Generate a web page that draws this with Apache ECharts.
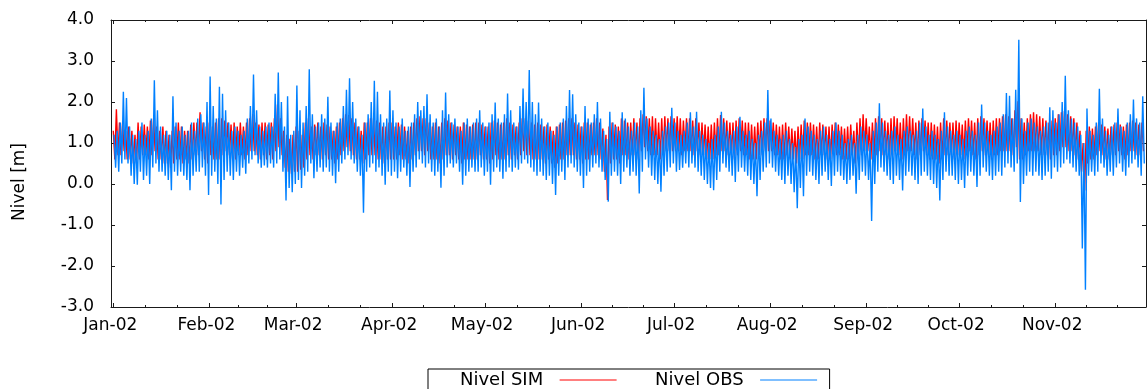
<!DOCTYPE html>
<html>
<head>
<meta charset="utf-8">
<title>Nivel SIM / Nivel OBS 2002</title>
<script src="https://cdn.jsdelivr.net/npm/echarts@6/dist/echarts.min.js"></script>
<style>
  html, body { margin: 0; padding: 0; background: #ffffff; }
  #chart { width: 1147px; height: 389px; }
</style>
</head>
<body>
<div id="chart"></div>
<script>
// Day-of-year (0 = 1 Jan 2002) where each month starts, and the tick labels.
const monthStarts = [0, 31, 59, 90, 120, 151, 181, 212, 243, 273, 304, 334];
const monthLabels = ['Jan-02', 'Feb-02', 'Mar-02', 'Apr-02', 'May-02', 'Jun-02',
                     'Jul-02', 'Aug-02', 'Sep-02', 'Oct-02', 'Nov-02'];

// Daily high / low water level [m], observed (OBS) and simulated (SIM).
// One line per month, January .. November.
const obsHigh = [
  1.2,1.3,1.5,2.25,2.1,1.4,1.2,1.1,1.3,1.5,1.2,1.3,1.6,2.53,1.8,1.4,1.2,1.3,1.2,2.14,1.5,1.3,1.4,1.2,1.3,1.5,1.3,1.6,1.7,1.5,2.0,
  2.62,1.9,1.6,2.37,2.2,1.8,1.5,1.3,1.4,1.3,1.2,1.3,1.6,1.9,2.67,1.8,1.4,1.3,1.4,1.5,1.4,2.2,2.72,2.0,1.4,2.14,1.2,1.3,
  2.4,1.8,1.5,1.9,2.8,1.7,1.4,1.5,1.7,1.6,2.13,1.5,1.3,1.5,1.6,1.9,2.3,2.58,2.0,1.6,1.4,1.2,1.5,1.7,2.0,2.52,2.25,1.7,1.5,1.6,2.28,
  1.8,1.5,1.4,1.6,1.3,1.4,1.5,1.7,2.0,1.8,1.9,2.19,1.7,1.5,1.6,1.4,1.8,2.23,1.7,1.5,1.6,1.4,1.3,1.5,1.6,1.4,1.5,1.6,1.8,1.5,
  1.4,1.5,1.7,1.99,1.6,1.5,1.7,2.21,1.8,1.5,1.4,1.9,2.33,2.0,2.78,2.0,1.7,1.99,1.6,1.4,1.5,1.3,1.2,1.4,1.5,1.6,1.9,2.29,2.19,1.7,1.5,
  1.4,1.9,1.6,1.5,1.7,2.0,1.6,1.3,1.1,1.76,1.5,1.4,1.3,1.75,1.6,1.4,1.3,1.5,1.4,1.8,2.35,1.6,1.4,1.3,1.2,1.1,1.3,1.4,1.5,1.86,
  1.5,1.3,1.2,1.3,1.5,1.75,1.4,1.76,1.3,1.2,1.1,1.0,1.1,1.2,1.4,1.76,1.5,1.3,1.2,1.3,1.4,1.64,1.3,1.2,1.3,1.1,1.0,1.2,1.3,1.5,2.29,
  1.6,1.3,1.2,1.1,1.2,1.3,1.1,1.0,0.9,1.1,1.2,1.6,1.4,1.3,1.2,1.1,1.3,1.4,1.2,1.1,1.3,1.5,1.3,1.2,1.0,1.1,1.2,1.0,1.2,1.4,1.3,
  1.2,1.0,1.3,1.5,1.97,1.5,1.3,1.2,1.3,1.4,1.2,1.1,1.3,1.4,1.3,1.2,1.3,1.5,1.84,1.4,1.2,1.3,1.2,1.1,1.3,1.75,1.4,1.3,1.2,1.3,
  1.2,1.1,1.3,1.4,1.3,1.2,1.5,1.94,1.5,1.3,1.2,1.3,1.4,1.5,1.7,2.22,2.15,1.6,2.3,3.52,1.6,1.3,1.5,1.6,1.5,1.4,1.3,1.4,1.5,1.87,1.8,
  1.5,1.7,2.0,2.64,1.8,1.6,1.5,1.4,1.2,1.0,1.84,1.3,1.2,1.5,2.32,1.6,1.3,1.2,1.4,1.5,1.84,1.4,1.3,1.5,1.7,2.06,1.6,1.5,2.14
];
const obsLow = [
  0.4,0.3,0.5,0.6,0.5,0.2,0.0,-0.02,0.3,0.1,0.2,0.0,0.4,0.5,0.3,0.3,0.2,0.1,-0.15,0.3,0.2,0.3,0.2,0.1,-0.15,0.2,0.3,0.3,0.4,0.2,-0.27,
  0.2,0.3,0.0,-0.5,0.1,0.3,0.2,0.1,0.3,0.2,0.4,0.25,0.5,0.6,0.7,0.5,0.4,0.45,0.4,0.5,0.4,0.5,0.6,0.3,-0.4,-0.1,-0.2,0.0,
  0.1,-0.1,0.2,0.3,0.5,0.14,0.3,0.4,0.3,0.4,0.3,0.2,0.02,0.3,0.5,0.6,0.7,0.6,0.5,0.3,0.2,-0.7,0.3,0.4,0.5,0.3,0.4,0.2,-0.02,0.3,0.2,
  0.3,0.14,0.3,0.4,0.2,-0.07,0.3,0.4,0.6,0.5,0.4,0.5,0.3,0.2,0.3,-0.09,0.2,0.4,0.5,0.4,0.5,0.3,-0.02,0.2,0.3,0.4,0.3,0.3,0.4,0.2,
  0.3,-0.02,0.3,0.4,0.3,0.13,0.3,0.4,0.3,0.4,0.35,0.5,0.6,0.5,0.4,0.3,0.2,0.3,0.2,0.1,0.2,0.0,-0.27,0.2,0.3,0.1,0.4,0.5,0.4,0.3,0.2,
  -0.1,0.2,0.3,0.4,0.5,0.4,0.3,0.1,-0.43,0.2,0.3,0.2,0.0,0.3,0.4,0.2,0.3,0.2,-0.23,0.3,0.6,0.4,0.2,0.1,0.0,-0.19,0.2,0.3,0.4,0.5,
  0.3,0.34,0.4,0.5,0.4,0.5,0.4,0.3,0.2,0.1,0.0,-0.1,-0.15,0.1,0.3,0.5,0.4,0.3,0.2,0.05,0.3,0.4,0.3,0.2,0.1,0.0,-0.3,0.1,0.3,0.4,0.5,
  0.4,0.3,0.2,0.1,0.0,0.2,0.0,-0.2,-0.59,-0.1,-0.3,0.2,0.3,0.2,0.1,0.0,0.2,0.3,0.1,-0.05,0.2,0.3,0.2,0.1,0.0,0.1,0.2,-0.24,0.1,0.3,0.2,
  0.1,-0.9,0.0,0.3,0.4,0.3,0.2,0.1,0.0,0.2,0.1,-0.16,0.2,0.3,0.2,0.1,0.0,0.2,0.3,0.2,0.1,0.0,-0.1,-0.4,0.1,0.3,0.2,0.2,0.1,0.0,
  0.1,-0.1,0.2,0.3,0.2,-0.07,0.2,0.4,0.3,0.2,0.1,0.2,0.3,0.2,0.4,0.5,0.4,0.3,0.5,-0.44,0.0,0.2,0.3,0.2,0.3,0.2,0.1,0.2,0.3,0.13,0.4,
  0.3,0.4,0.5,0.6,0.5,0.4,0.3,0.2,-1.57,-2.58,0.2,0.3,0.2,0.3,0.5,0.4,0.2,0.3,0.2,0.4,0.5,0.3,0.2,0.4,0.5,0.6,0.4,0.2,0.5
];
const simHigh = [
  1.3,1.82,1.5,1.5,1.3,1.4,1.3,1.2,1.5,1.4,1.45,1.4,1.55,1.6,1.4,1.3,1.4,1.3,1.2,1.3,1.4,1.5,1.4,1.3,1.3,1.45,1.5,1.5,1.75,1.5,1.4,
  1.5,1.4,1.5,1.6,1.6,1.55,1.5,1.45,1.5,1.4,1.5,1.4,1.5,1.6,1.7,1.5,1.45,1.5,1.5,1.45,1.5,1.6,1.94,1.6,1.3,1.2,1.1,1.2,
  1.4,1.3,1.2,1.5,1.6,1.4,1.45,1.5,1.4,1.5,1.45,1.4,1.3,1.4,1.5,1.6,1.7,1.68,1.6,1.5,1.4,1.3,1.5,1.5,1.6,1.6,1.55,1.5,1.4,1.4,1.5,
  1.5,1.4,1.5,1.45,1.4,1.3,1.4,1.5,1.6,1.65,1.6,1.6,1.5,1.4,1.5,1.4,1.5,1.6,1.55,1.5,1.45,1.4,1.4,1.5,1.45,1.4,1.45,1.5,1.5,1.45,
  1.4,1.4,1.5,1.55,1.5,1.45,1.5,1.6,1.5,1.45,1.4,1.5,1.6,1.6,1.55,1.5,1.45,1.5,1.45,1.4,1.45,1.4,1.3,1.4,1.45,1.5,1.55,1.6,1.6,1.5,1.45,
  1.4,1.5,1.5,1.45,1.5,1.6,1.5,1.35,1.2,1.4,1.5,1.45,1.4,1.6,1.55,1.5,1.5,1.6,1.5,1.6,1.7,1.65,1.6,1.65,1.6,1.5,1.6,1.65,1.6,1.65,
  1.6,1.65,1.6,1.55,1.6,1.6,1.55,1.6,1.5,1.5,1.45,1.4,1.45,1.5,1.6,1.68,1.6,1.55,1.5,1.5,1.55,1.6,1.55,1.5,1.5,1.45,1.4,1.5,1.55,1.6,1.6,
  1.55,1.5,1.45,1.4,1.45,1.5,1.4,1.35,1.3,1.4,1.45,1.55,1.5,1.5,1.45,1.4,1.5,1.45,1.4,1.4,1.45,1.5,1.45,1.4,1.35,1.4,1.45,1.3,1.5,1.6,1.7,
  1.6,1.4,1.5,1.6,1.65,1.6,1.55,1.5,1.6,1.65,1.6,1.5,1.6,1.7,1.65,1.6,1.5,1.55,1.6,1.55,1.5,1.5,1.45,1.4,1.5,1.6,1.55,1.5,1.5,1.55,
  1.5,1.45,1.55,1.6,1.55,1.5,1.6,1.65,1.6,1.55,1.5,1.55,1.6,1.6,1.65,1.7,1.65,1.6,1.8,2.02,1.6,1.5,1.6,1.7,1.75,1.7,1.65,1.6,1.55,1.5,1.55,
  1.6,1.7,1.75,1.78,1.7,1.65,1.6,1.5,1.3,1.0,1.3,1.4,1.35,1.4,1.5,1.45,1.4,1.35,1.4,1.45,1.5,1.45,1.4,1.45,1.5,1.55,1.5,1.45,1.5
];
const simLow = [
  0.6,0.7,0.7,0.8,0.6,0.6,0.5,0.5,0.6,0.7,0.7,0.6,0.7,0.8,0.6,0.6,0.5,0.5,0.4,0.5,0.6,0.6,0.5,0.6,0.5,0.6,0.7,0.7,0.8,0.6,0.5,
  0.7,0.6,0.6,0.6,0.7,0.8,0.7,0.6,0.6,0.7,0.7,0.6,0.7,0.8,0.8,0.7,0.6,0.7,0.6,0.7,0.6,0.8,0.9,0.7,0.4,0.3,0.25,0.3,
  0.3,0.35,0.4,0.6,0.7,0.6,0.7,0.7,0.6,0.7,0.6,0.6,0.5,0.6,0.7,0.8,0.9,0.8,0.7,0.6,0.6,0.5,0.6,0.7,0.7,0.7,0.6,0.6,0.5,0.6,0.6,
  0.6,0.6,0.7,0.6,0.6,0.5,0.6,0.7,0.8,0.8,0.7,0.8,0.6,0.6,0.6,0.5,0.6,0.7,0.7,0.6,0.7,0.6,0.5,0.6,0.6,0.6,0.6,0.6,0.7,0.6,
  0.6,0.5,0.6,0.7,0.6,0.6,0.6,0.7,0.6,0.7,0.6,0.7,0.8,0.7,0.7,0.6,0.6,0.6,0.6,0.5,0.6,0.5,0.4,0.5,0.6,0.6,0.7,0.7,0.7,0.6,0.6,
  0.5,0.6,0.6,0.7,0.7,0.7,0.6,0.3,-0.39,0.5,0.6,0.6,0.5,0.7,0.7,0.6,0.7,0.7,0.6,0.8,0.9,0.8,0.7,0.7,0.7,0.6,0.7,0.8,0.8,0.8,
  0.8,0.8,0.7,0.8,0.8,0.8,0.7,0.8,0.7,0.7,0.6,0.6,0.6,0.7,0.7,0.8,0.8,0.7,0.7,0.6,0.7,0.8,0.7,0.7,0.6,0.6,0.6,0.7,0.7,0.8,0.8,
  0.8,0.7,0.7,0.6,0.6,0.7,0.6,0.6,0.5,0.6,0.6,0.7,0.7,0.7,0.6,0.6,0.7,0.7,0.6,0.6,0.7,0.7,0.7,0.6,0.6,0.6,0.7,0.5,0.6,0.7,0.8,
  0.8,0.6,0.6,0.7,0.8,0.7,0.7,0.6,0.7,0.8,0.7,0.6,0.7,0.8,0.8,0.7,0.6,0.7,0.8,0.7,0.6,0.6,0.6,0.5,0.6,0.7,0.7,0.7,0.6,0.7,
  0.7,0.6,0.7,0.8,0.7,0.6,0.7,0.8,0.7,0.7,0.6,0.7,0.7,0.8,0.8,0.8,0.8,0.7,0.9,0.6,0.6,0.7,0.8,0.8,0.8,0.8,0.7,0.7,0.7,0.6,0.7,
  0.7,0.8,0.9,0.9,0.8,0.8,0.7,0.6,0.3,-0.16,0.5,0.6,0.6,0.7,0.8,0.7,0.6,0.6,0.7,0.7,0.8,0.7,0.6,0.7,0.8,0.8,0.7,0.7,0.8
];

const FONT = 'DejaVu Sans';
const INK = '#1a1a1a';
const X_MIN = -0.74;
const X_MAX = 333.3;
const LINE_W = 1.4;

// Month ticks carry labels; each month is also split in thirds by short ticks.
const majorTicks = monthStarts.slice(0, monthLabels.length);
const minorTicks = [];
for (let i = 0; i < monthLabels.length; i++) {
  const s = monthStarts[i], len = monthStarts[i + 1] - s;
  [s + len / 3, s + 2 * len / 3].forEach(v => { if (v <= X_MAX) minorTicks.push(v); });
}

// Each day contributes its high and its low, half a day apart.
function dailyPoints(high, low, phase) {
  const pts = [];
  for (let d = 0; d < high.length; d++) {
    pts.push([d + phase, high[d]]);
    pts.push([d + phase + 0.5, low[d]]);
  }
  return pts;
}

function tickAxis(position, ticks, len, withLine, withLabels) {
  return {
    type: 'value', position: position, min: X_MIN, max: X_MAX,
    axisLine: { show: withLine, onZero: false, lineStyle: { color: INK, width: 1 } },
    axisTick: { show: true, inside: true, length: len, customValues: ticks,
                lineStyle: { color: INK, width: 1 } },
    axisLabel: withLabels ? {
      show: true, customValues: ticks, margin: 10, padding: [0, 6, 0, 0],
      fontFamily: FONT, fontSize: 17, color: '#000',
      formatter: v => monthLabels[majorTicks.indexOf(v)] || ''
    } : { show: false },
    splitLine: { show: false }
  };
}

function levelAxis(position, withLabels) {
  return {
    type: 'value', position: position, min: -3, max: 4, interval: 1,
    axisLine: { show: true, onZero: false, lineStyle: { color: INK, width: 1 } },
    axisTick: { show: true, inside: true, length: 4, lineStyle: { color: INK, width: 1 } },
    axisLabel: withLabels ? {
      show: true, margin: 17, fontFamily: FONT, fontSize: 17, color: '#000',
      formatter: v => v.toFixed(1)
    } : { show: false },
    splitLine: { show: false }
  };
}

const chart = echarts.init(document.getElementById('chart'), null, { renderer: 'canvas' });
chart.setOption({
  animation: false,
  backgroundColor: '#ffffff',
  grid: { left: 111, right: 1, top: 20, bottom: 82, containLabel: false },
  xAxis: [
    tickAxis('bottom', majorTicks, 4, true, true),
    tickAxis('bottom', minorTicks, 2, false, false),
    tickAxis('top', majorTicks, 4, true, false),
    tickAxis('top', minorTicks, 2, false, false)
  ],
  yAxis: [levelAxis('left', true), levelAxis('right', false)],
  legend: {
    data: ['Nivel SIM', 'Nivel OBS'],
    left: 428, top: 369, orient: 'horizontal', align: 'right',
    itemWidth: 57, itemHeight: 14, itemGap: 38,
    padding: [2, 12, 8, 32],
    borderColor: '#000', borderWidth: 1,
    itemStyle: { opacity: 0 },
    lineStyle: { width: 1 },
    formatter: name => name + '  ',
    textStyle: { fontFamily: FONT, fontSize: 18, color: '#000' }
  },
  graphic: [{
    type: 'text', x: 20, y: 182, rotation: Math.PI / 2,
    style: { text: 'Nivel [m]', fontFamily: FONT, fontSize: 17, fill: '#000',
             align: 'center', verticalAlign: 'middle' }
  }],
  series: [
    {
      name: 'Nivel SIM', type: 'line', xAxisIndex: 0, yAxisIndex: 0,
      data: dailyPoints(simHigh, simLow, 0.0),
      symbol: 'none', showSymbol: false, clip: true, z: 2,
      itemStyle: { color: '#ff0000' },
      lineStyle: { color: '#ff0000', width: LINE_W }
    },
    {
      name: 'Nivel OBS', type: 'line', xAxisIndex: 0, yAxisIndex: 0,
      data: dailyPoints(obsHigh, obsLow, 0.25),
      symbol: 'none', showSymbol: false, clip: true, z: 3,
      itemStyle: { color: '#0080ff' },
      lineStyle: { color: '#0080ff', width: LINE_W }
    }
  ]
});
</script>
</body>
</html>
